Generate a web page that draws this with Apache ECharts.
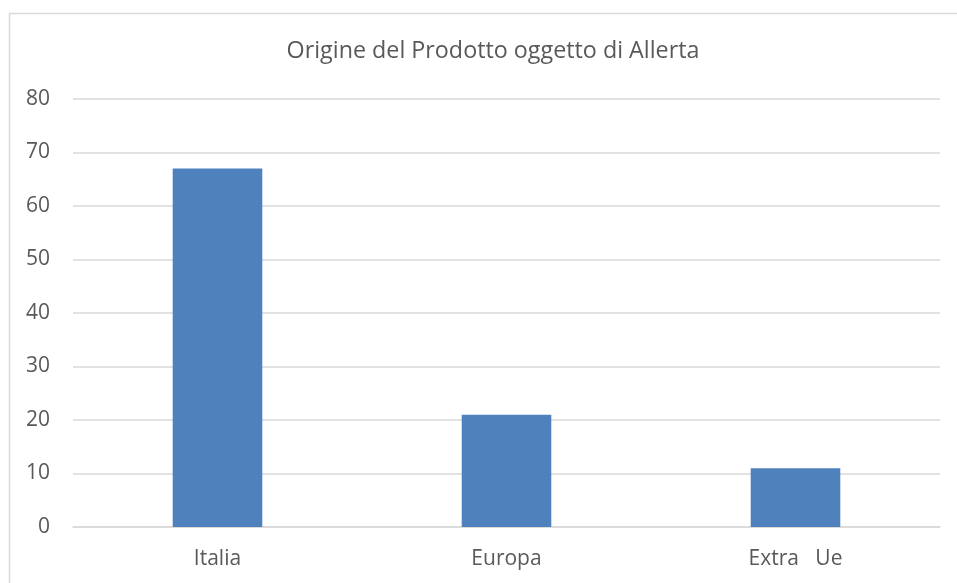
<!DOCTYPE html>
<html>
<head>
<meta charset="utf-8">
<script src="https://cdn.jsdelivr.net/npm/echarts@6/dist/echarts.min.js"></script>
<style>
html,body{margin:0;padding:0;background:#fff;}
#chart{width:957px;height:583px;}
</style>
</head>
<body>
<div id="chart"></div>
<script>
const categories = ['Italia', 'Europa', 'Extra   Ue'];
const values = [67, 21, 11];
const yTicks = [0, 10, 20, 30, 40, 50, 60, 70, 80];
const titleText = 'Origine del Prodotto oggetto di Allerta';

const chart = echarts.init(document.getElementById('chart'), null, {renderer: 'canvas'});
const font = 'Open Sans';
chart.setOption({
  animation: false,
  backgroundColor: '#fff',
  graphic: [{
    type: 'rect',
    shape: {x: 9.5, y: 13.5, width: 1000, height: 1000},
    style: {fill: 'none', stroke: '#d9d9d9', lineWidth: 1.5},
    silent: true
  }],
  title: {
    text: titleText,
    left: 488, top: 35, textAlign: 'center',
    textStyle: {fontFamily: font, fontSize: 23.3, fontWeight: 'normal', color: '#595959'}
  },
  grid: {left: 73, right: 17, top: 99, bottom: 56, containLabel: false},
  xAxis: {
    type: 'category',
    data: categories,
    axisLine: {show: true, lineStyle: {color: '#d9d9d9', width: 1.5}},
    axisTick: {show: false},
    axisLabel: {fontFamily: font, fontSize: 21, color: '#595959', margin: 22}
  },
  yAxis: {
    type: 'value',
    min: yTicks[0], max: yTicks[yTicks.length - 1], interval: 10,
    axisLine: {show: false},
    axisTick: {show: false},
    splitLine: {lineStyle: {color: '#d9d9d9', width: 1.5}},
    axisLabel: {fontFamily: font, fontSize: 21, color: '#595959', margin: 23}
  },
  series: [{
    type: 'bar',
    data: values,
    barWidth: '31%',
    itemStyle: {color: '#4f81bd'}
  }]
});
</script>
</body>
</html>
